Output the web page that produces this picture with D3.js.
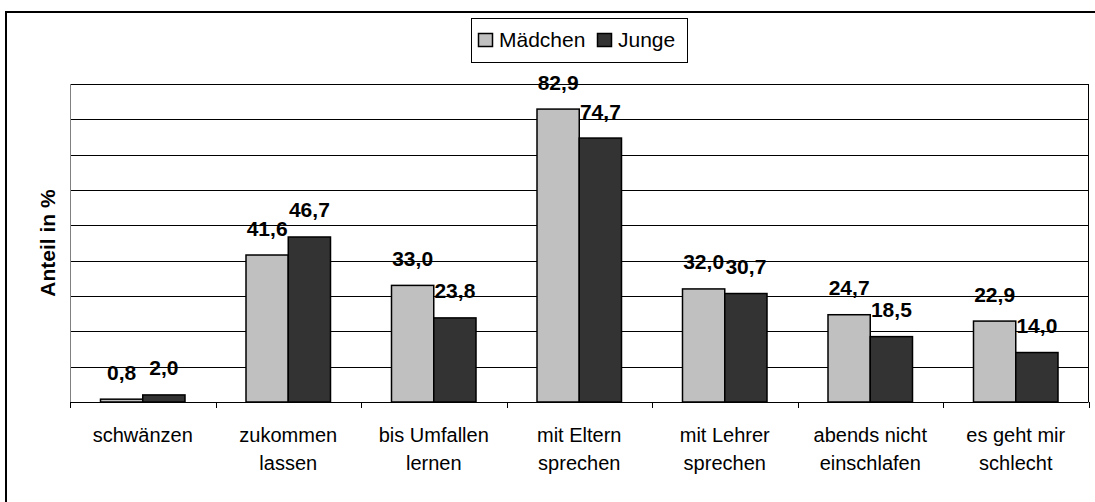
<!DOCTYPE html>
<html>
<head>
<meta charset="utf-8">
<script src="https://cdn.jsdelivr.net/npm/d3@7/dist/d3.min.js"></script>
<style>
  body { margin: 0; background: #fff; }
  svg { display: block; font-family: Arial, "Liberation Sans", sans-serif; }
</style>
</head>
<body>
<div id="chart"></div>
<script>
var categories = ["schwänzen", "zukommen\nlassen", "bis Umfallen\nlernen", "mit Eltern\nsprechen",
                  "mit Lehrer\nsprechen", "abends nicht\neinschlafen", "es geht mir\nschlecht"];
var series = ["Mädchen", "Junge"];
var maedchen = [0.8, 41.6, 33.0, 82.9, 32.0, 24.7, 22.9];
var junge = [2.0, 46.7, 23.8, 74.7, 30.7, 18.5, 14.0];
var yTicks = [0, 10, 20, 30, 40, 50, 60, 70, 80, 90];

var colors = { "Mädchen": "#c0c0c0", "Junge": "#333333" };

var width = 1095, height = 502;
var plotLeft = 70, plotRight = 1088.5, plotTop = 84, plotBottom = 402;

var svg = d3.select("#chart").append("svg")
    .attr("width", width)
    .attr("height", height);

// outer frame (runs off the right / bottom of the picture)
svg.append("rect")
    .attr("x", 6).attr("y", 12)
    .attr("width", 1200).attr("height", 600)
    .attr("fill", "none")
    .attr("stroke", "#000")
    .attr("stroke-width", 2);

var x0 = d3.scaleBand().domain(categories).range([plotLeft, plotRight]).padding(0);
var inner = 30.5;
var x1 = d3.scaleBand().domain(series).range([inner, x0.bandwidth() - inner]).padding(0);
var y = d3.scaleLinear().domain([0, 90]).range([plotBottom, plotTop]);

// gridlines
svg.append("g")
    .selectAll("line").data(yTicks.slice(1))
    .enter().append("line")
    .attr("x1", plotLeft).attr("x2", plotRight)
    .attr("y1", function (d) { return Math.round(y(d)) + 0.5; })
    .attr("y2", function (d) { return Math.round(y(d)) + 0.5; })
    .attr("stroke", "#000")
    .attr("stroke-width", 1);

// right border of plot
svg.append("line")
    .attr("x1", plotRight).attr("x2", plotRight)
    .attr("y1", plotTop).attr("y2", plotBottom)
    .attr("stroke", "#000");

// y axis line (gray)
svg.append("line")
    .attr("x1", plotLeft + 0.5).attr("x2", plotLeft + 0.5)
    .attr("y1", plotTop).attr("y2", plotBottom)
    .attr("stroke", "#808080");

// bars
var rows = categories.map(function (c, i) {
    return { cat: c, values: [{ s: "Mädchen", v: maedchen[i] }, { s: "Junge", v: junge[i] }] };
});

var groups = svg.append("g").selectAll("g").data(rows)
    .enter().append("g")
    .attr("transform", function (d) { return "translate(" + x0(d.cat) + ",0)"; });

groups.selectAll("rect").data(function (d) { return d.values; })
    .enter().append("rect")
    .attr("x", function (d) { return x1(d.s); })
    .attr("y", function (d) { return y(d.v); })
    .attr("width", x1.bandwidth())
    .attr("height", function (d) { return y(0) - y(d.v); })
    .attr("fill", function (d) { return colors[d.s]; })
    .attr("stroke", "#000")
    .attr("stroke-width", 1.5);

groups.selectAll("text").data(function (d) { return d.values; })
    .enter().append("text")
    .attr("x", function (d) { return x1(d.s) + x1.bandwidth() / 2; })
    .attr("y", function (d) { return y(d.v) - 19.5; })
    .attr("text-anchor", "middle")
    .style("font-size", "21px")
    .style("font-weight", "bold")
    .text(function (d) { return d.v.toFixed(1).replace(".", ","); });

// x axis
svg.append("line")
    .attr("x1", plotLeft).attr("x2", plotRight)
    .attr("y1", plotBottom + 0.5).attr("y2", plotBottom + 0.5)
    .attr("stroke", "#000");

var bounds = categories.map(function (c) { return x0(c); }).concat([plotRight]);
svg.append("g").selectAll("line").data(bounds)
    .enter().append("line")
    .attr("x1", function (d) { return Math.round(d) + 0.5; })
    .attr("x2", function (d) { return Math.round(d) + 0.5; })
    .attr("y1", plotBottom).attr("y2", plotBottom + 6)
    .attr("stroke", "#000");

var catLabels = svg.append("g").selectAll("text").data(categories)
    .enter().append("text")
    .attr("x", function (d) { return x0(d) + x0.bandwidth() / 2; })
    .attr("y", 442)
    .attr("text-anchor", "middle")
    .style("font-size", "20px")
    .attr("fill", "#000");

catLabels.each(function (d) {
    var t = d3.select(this);
    d.split("\n").forEach(function (line, i) {
        t.append("tspan")
            .attr("x", x0(d) + x0.bandwidth() / 2)
            .attr("dy", i === 0 ? 0 : 28)
            .text(line);
    });
});

// y axis title
svg.append("text")
    .attr("transform", "translate(55," + ((plotTop + plotBottom) / 2) + ") rotate(-90)")
    .attr("text-anchor", "middle")
    .style("font-size", "21px")
    .style("font-weight", "bold")
    .text("Anteil in %");

// legend
var legend = svg.append("g");
legend.append("rect")
    .attr("x", 471.5).attr("y", 18.5)
    .attr("width", 216).attr("height", 44)
    .attr("fill", "#fff")
    .attr("stroke", "#000");

var legendX = [478, 597];
series.forEach(function (s, i) {
    legend.append("rect")
        .attr("x", legendX[i] + 0.5).attr("y", 33.5)
        .attr("width", 14).attr("height", 13)
        .attr("fill", colors[s])
        .attr("stroke", "#000")
        .attr("stroke-width", 1.5);
    legend.append("text")
        .attr("x", legendX[i] + 21)
        .attr("y", 47)
        .style("font-size", "21px")
        .text(s);
});
</script>
</body>
</html>
